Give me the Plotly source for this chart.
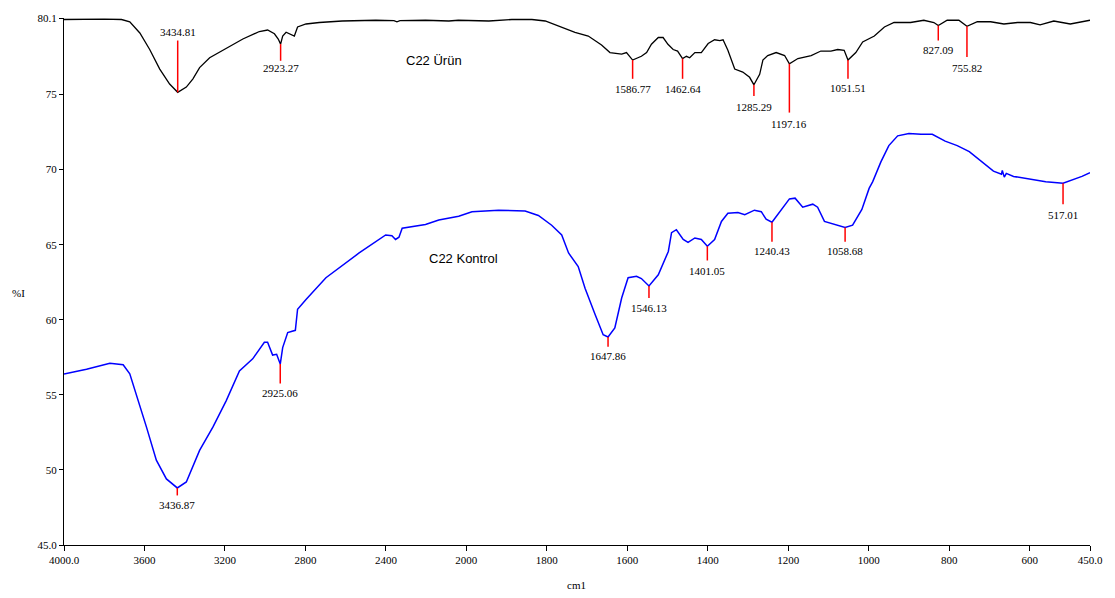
import plotly.graph_objects as go

# ---------------- data ----------------
urun_wn = [4000, 3900, 3800, 3714, 3673, 3623, 3574, 3524, 3475, 3434.81, 3392, 3359, 3326, 3276,
           3194, 3111, 3029, 2988, 2954, 2935, 2923.27, 2913, 2896, 2872, 2855, 2839, 2797, 2731,
           2617, 2450, 2360, 2345, 2330, 2203, 2087, 2040, 1944, 1887, 1837, 1804, 1763, 1730,
           1697, 1664, 1643, 1614, 1602, 1586.77, 1565, 1552, 1540, 1523, 1511, 1499, 1486, 1475,
           1462.64, 1453, 1445, 1432, 1416, 1399, 1383, 1370, 1362, 1350, 1333, 1313, 1296,
           1285.29, 1271, 1263, 1251, 1230, 1209, 1197.16, 1176, 1143, 1119, 1094, 1077, 1061,
           1051.51, 1032, 1015, 986, 961, 937, 896, 863, 838, 827.09, 805, 776, 755.82, 730, 697,
           664, 630, 598, 574, 540, 499, 470, 450]
urun_T = [80.0, 80.02, 80.02, 80.0, 79.85, 79.1, 78.0, 76.7, 75.7, 75.15, 75.5, 76.05, 76.8, 77.45,
          78.1, 78.7, 79.2, 79.3, 79.05, 78.7, 78.36, 78.9, 79.15, 79.0, 78.9, 79.5, 79.7, 79.8,
          79.9, 79.95, 79.93, 79.85, 79.92, 79.95, 79.9, 79.95, 79.9, 80.0, 80.0, 79.9, 79.5, 79.15,
          78.9, 78.3, 77.8, 77.7, 77.8, 77.3, 77.55, 77.8, 78.35, 78.8, 78.8, 78.35, 78.0, 77.9,
          77.4, 77.55, 77.45, 77.8, 77.8, 78.4, 78.65, 78.6, 78.65, 77.95, 76.7, 76.5, 76.15,
          75.65, 76.35, 77.3, 77.6, 77.8, 77.6, 77.05, 77.4, 77.6, 77.9, 77.9, 78.0, 77.95,
          77.3, 77.8, 78.5, 78.9, 79.5, 79.8, 79.8, 79.95, 79.8, 79.6, 79.95, 79.95, 79.55, 79.85, 79.85,
          79.7, 79.8, 79.8, 79.65, 79.9, 79.7, 79.85, 79.95]

kontrol_wn = [4000, 3888, 3772, 3706, 3673, 3640, 3590, 3541, 3491, 3436.87, 3392, 3326, 3260, 3194,
              3128, 3062, 3004, 2988, 2963, 2943, 2925.06, 2913, 2888, 2850, 2839, 2797, 2698, 2533,
              2401, 2370, 2352, 2335, 2319, 2203, 2137, 2038, 1986, 1920, 1854, 1821, 1788, 1763,
              1746, 1722, 1705, 1680, 1660, 1647.86, 1631, 1614, 1598, 1577, 1565, 1546.13, 1523,
              1498, 1490, 1478, 1461, 1449, 1432, 1416, 1401.05, 1383, 1366, 1350, 1325, 1308, 1284,
              1267, 1255, 1240.43, 1218, 1197, 1183, 1164, 1139, 1127, 1110, 1085, 1070, 1058.68,
              1040, 1017, 999, 990, 970, 950, 928, 900, 870, 842, 810, 780, 750, 713, 690, 670, 668,
              663, 658, 640, 600, 560, 517.01, 490, 470, 450]
kontrol_T = [56.39, 56.7, 57.1, 57.0, 56.4, 55.05, 52.85, 50.65, 49.4, 48.8, 49.2, 51.3, 52.85, 54.6,
             56.6, 57.4, 58.5, 58.5, 57.65, 57.7, 57.05, 58.15, 59.15, 59.3, 60.7, 61.35, 62.8, 64.45,
             65.65, 65.6, 65.35, 65.5, 66.1, 66.35, 66.65, 66.9, 67.2, 67.3, 67.25, 66.95, 66.3, 65.65,
             64.45, 63.55, 62.1, 60.35, 59.0, 58.85, 59.45, 61.45, 62.8, 62.9, 62.75, 62.25, 63.0,
             64.55, 65.8, 66.0, 65.35, 65.15, 65.45, 65.35, 64.9, 65.35, 66.55, 67.1, 67.15, 67.0, 67.3,
             67.2, 66.7, 66.5, 67.3, 68.05, 68.1, 67.5, 67.7, 67.5, 66.55, 66.35, 66.2, 66.15,
             66.3, 67.35, 68.75, 69.2, 70.5, 71.6, 72.25, 72.4, 72.35, 72.35, 71.9, 71.6, 71.2, 70.4,
             69.9, 69.7, 69.95, 69.5, 69.75, 69.55, 69.35, 69.2, 69.1, 69.35, 69.55, 69.8]

# peaks: wavenumber, value on curve, end of marker line, label position
urun_peaks = [3434.81, 2923.27, 1586.77, 1462.64, 1285.29, 1197.16, 1051.51, 827.09, 755.82]
urun_peak_T = [75.15, 78.36, 77.3, 77.4, 75.65, 77.05, 77.3, 79.6, 79.55]
urun_peak_end = [78.6, 77.25, 76.05, 76.05, 74.9, 73.8, 76.05, 78.6, 77.5]
urun_peak_lab = [79.15, 76.75, 75.4, 75.4, 74.2, 73.05, 75.45, 77.95, 76.8]

kontrol_peaks = [3436.87, 2925.06, 1647.86, 1546.13, 1401.05, 1240.43, 1058.68, 517.01]
kontrol_peak_T = [48.8, 57.05, 58.85, 62.25, 64.9, 66.5, 66.15, 69.1]
kontrol_peak_end = [48.3, 55.75, 58.2, 61.45, 63.95, 65.2, 65.2, 67.7]
kontrol_peak_lab = [47.65, 55.1, 57.6, 60.8, 63.25, 64.55, 64.55, 67.0]

x_ticks = [4000, 3600, 3200, 2800, 2400, 2000, 1800, 1600, 1400, 1200, 1000, 800, 600, 450]
x_ticktext = ["4000.0", "3600", "3200", "2800", "2400", "2000", "1800", "1600", "1400",
              "1200", "1000", "800", "600", "450.0"]
y_ticks = [45, 50, 55, 60, 65, 70, 75, 80.1]
y_ticktext = ["45.0", "50", "55", "60", "65", "70", "75", "80.1"]


# abscissa with 2x expansion below 2000 cm-1 (as in the instrument plot)
def xt(w):
    return 4000 - w if w >= 2000 else 2000 + 2 * (2000 - w)


def xs(ws):
    return [xt(w) for w in ws]


fig = go.Figure()
fig.add_trace(go.Scatter(x=xs(urun_wn), y=urun_T, mode="lines",
                         line=dict(color="#000000", width=1.3), hoverinfo="skip"))
fig.add_trace(go.Scatter(x=xs(kontrol_wn), y=kontrol_T, mode="lines",
                         line=dict(color="#0000ff", width=1.5), hoverinfo="skip"))

lab_font = dict(family="Liberation Serif", size=11, color="#000000")
for peaks, tops, ends, labs in [(urun_peaks, urun_peak_T, urun_peak_end, urun_peak_lab),
                                (kontrol_peaks, kontrol_peak_T, kontrol_peak_end, kontrol_peak_lab)]:
    lx, ly = [], []
    for w, t, e in zip(peaks, tops, ends):
        lx += [xt(w), xt(w), None]
        ly += [t, e, None]
    fig.add_trace(go.Scatter(x=lx, y=ly, mode="lines",
                             line=dict(color="#ff0000", width=1.5), hoverinfo="skip"))
    for w, l in zip(peaks, labs):
        fig.add_annotation(x=xt(w), y=l, text=f"{w:.2f}", showarrow=False,
                           xanchor="center", yanchor="middle", font=lab_font)

fig.add_annotation(xref="paper", yref="paper", x=(405 - 64) / 1030, y=(545 - 49) / 529,
                   text="C22 Ürün", showarrow=False,
                   font=dict(family="Liberation Sans", size=13, color="#000000"))
fig.add_annotation(xref="paper", yref="paper", x=(465 - 64) / 1030, y=(545 - 257) / 529,
                   text="C22 Kontrol", showarrow=False,
                   font=dict(family="Liberation Sans", size=13, color="#000000"))

tick_font = dict(family="Liberation Serif", size=11, color="#000000")
fig.update_layout(
    width=1115, height=598,
    margin=dict(l=64, r=21, t=16, b=53),
    paper_bgcolor="white", plot_bgcolor="white",
    showlegend=False,
    xaxis=dict(range=[0, 5100], tickmode="array", tickvals=xs(x_ticks), ticktext=x_ticktext,
               showgrid=False, zeroline=False, showline=True, linecolor="black", linewidth=1,
               ticks="outside", ticklen=5, tickcolor="black", tickfont=tick_font),
    yaxis=dict(range=[45, 80.1], tickmode="array", tickvals=y_ticks, ticktext=y_ticktext,
               showgrid=False, zeroline=False, showline=True, linecolor="black", linewidth=1,
               ticks="outside", ticklen=4, tickcolor="black", tickfont=tick_font),
)
fig.add_annotation(xref="paper", yref="paper", x=(578 - 64) / 1030, y=-(585 - 545) / 529,
                   text="cm1", showarrow=False, font=tick_font, xanchor="center", yanchor="middle")
fig.add_annotation(xref="paper", yref="paper", x=-(64 - 18) / 1030, y=(545 - 292) / 529,
                   text="%I", showarrow=False, font=tick_font, xanchor="center", yanchor="middle")

fig.write_html("out.html")
